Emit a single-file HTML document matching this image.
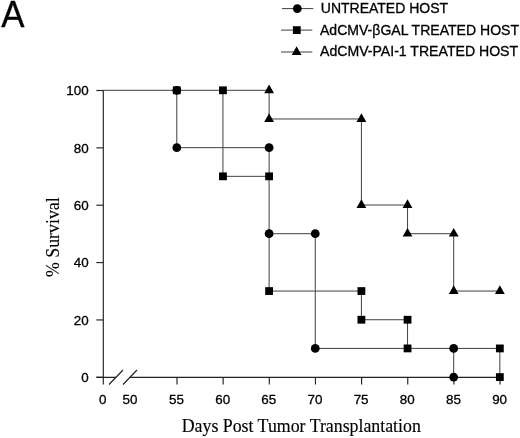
<!DOCTYPE html><html><head><meta charset="utf-8"><title>A</title><style>html,body{margin:0;padding:0;background:#fff}svg{display:block}text{font-family:"Liberation Sans",sans-serif;fill:#000;stroke:#000;stroke-width:.3px}.s{font-family:"Liberation Serif",serif;stroke-width:.15px}</style></head><body>
<svg width="520" height="438" viewBox="0 0 520 438">
<rect width="520" height="438" fill="#fff"/>
<text transform="translate(1.3 26.8) scale(.965 1)" font-size="36.1" stroke-width="0">A</text>
<g stroke="#222" stroke-width="1.15" fill="none">
<path d="M103.3 90.3V384.5"/>
<path d="M96.3 377.3H116M130 377.3H499.85"/>
<path d="M109 384.5L123 370M123 384.5L137 370"/>
<path d="M96.3 377.3H103.3"/>
<path d="M96.3 319.94H103.3"/>
<path d="M96.3 262.58H103.3"/>
<path d="M96.3 205.22H103.3"/>
<path d="M96.3 147.86H103.3"/>
<path d="M96.3 90.5H103.3"/>
<path d="M177.0 377.3V384.5"/>
<path d="M223.15 377.3V384.5"/>
<path d="M269.3 377.3V384.5"/>
<path d="M315.45 377.3V384.5"/>
<path d="M361.6 377.3V384.5"/>
<path d="M407.75 377.3V384.5"/>
<path d="M453.9 377.3V384.5"/>
<path d="M500.05 377.3V384.5"/>
</g>
<g stroke="#404040" stroke-width="1" fill="none">
<path stroke-linecap="square" d="M103.1 90.3H269.1M176.8 90.3V147.66M222.95 90.3V176.34M269.1 90.3V118.98M269.1 147.66V291.06M315.25 233.7V348.42M361.4 118.98V205.02M361.4 291.06V319.74M407.55 205.02V233.7M407.55 319.74V348.42M453.7 233.7V291.06M453.7 348.42V377.1M499.85 348.42V377.1M269.1 118.98H361.4M176.8 147.66H269.1M222.95 176.34H269.1M361.4 205.02H407.55M269.1 233.7H315.25M407.55 233.7H453.7M269.1 291.06H361.4M453.7 291.06H499.85M361.4 319.74H407.55M315.25 348.42H499.85"/>
<path d="M282 8.6H313.3"/>
<path d="M281 30.1H312.3"/>
<path d="M281 52H312.3"/>
</g>
<g fill="#000">
<circle cx="176.8" cy="90.3" r="4.4"/>
<circle cx="176.8" cy="147.66" r="4.4"/>
<circle cx="269.1" cy="147.66" r="4.4"/>
<circle cx="269.1" cy="233.7" r="4.4"/>
<circle cx="315.25" cy="233.7" r="4.4"/>
<circle cx="315.25" cy="348.42" r="4.4"/>
<circle cx="453.7" cy="348.42" r="4.4"/>
<circle cx="453.7" cy="377.1" r="4.4"/>
<rect x="172.90" y="86.40" width="7.8" height="7.8"/>
<rect x="219.05" y="86.40" width="7.8" height="7.8"/>
<rect x="219.05" y="172.44" width="7.8" height="7.8"/>
<rect x="265.20" y="172.44" width="7.8" height="7.8"/>
<rect x="265.20" y="287.16" width="7.8" height="7.8"/>
<rect x="357.50" y="287.16" width="7.8" height="7.8"/>
<rect x="357.50" y="315.84" width="7.8" height="7.8"/>
<rect x="403.65" y="315.84" width="7.8" height="7.8"/>
<rect x="403.65" y="344.52" width="7.8" height="7.8"/>
<rect x="495.95" y="344.52" width="7.8" height="7.8"/>
<rect x="495.95" y="373.20" width="7.8" height="7.8"/>
<path d="M269.1 84.60L274.00 93.20H264.20Z"/>
<path d="M269.1 113.28L274.00 121.88H264.20Z"/>
<path d="M361.4 113.28L366.30 121.88H356.50Z"/>
<path d="M361.4 199.32L366.30 207.92H356.50Z"/>
<path d="M407.55 199.32L412.45 207.92H402.65Z"/>
<path d="M407.55 228.00L412.45 236.60H402.65Z"/>
<path d="M453.7 228.00L458.60 236.60H448.80Z"/>
<path d="M453.7 285.36L458.60 293.96H448.80Z"/>
<path d="M499.85 285.36L504.75 293.96H494.95Z"/>
<circle cx="297.3" cy="8.6" r="4.4"/>
<rect x="292.90" y="26.20" width="7.8" height="7.8"/>
<path d="M296.6 46.30L301.50 54.90H291.70Z"/>
</g>
<text x="88.6" y="382.0" font-size="13.4" text-anchor="end">0</text>
<text x="88.6" y="324.6" font-size="13.4" text-anchor="end">20</text>
<text x="88.6" y="267.3" font-size="13.4" text-anchor="end">40</text>
<text x="88.6" y="209.9" font-size="13.4" text-anchor="end">60</text>
<text x="88.6" y="152.6" font-size="13.4" text-anchor="end">80</text>
<text x="88.6" y="95.2" font-size="13.4" text-anchor="end">100</text>
<text x="176.5" y="404.3" font-size="13.4" text-anchor="middle">55</text>
<text x="222.7" y="404.3" font-size="13.4" text-anchor="middle">60</text>
<text x="268.8" y="404.3" font-size="13.4" text-anchor="middle">65</text>
<text x="314.9" y="404.3" font-size="13.4" text-anchor="middle">70</text>
<text x="361.1" y="404.3" font-size="13.4" text-anchor="middle">75</text>
<text x="407.2" y="404.3" font-size="13.4" text-anchor="middle">80</text>
<text x="453.4" y="404.3" font-size="13.4" text-anchor="middle">85</text>
<text x="499.6" y="404.3" font-size="13.4" text-anchor="middle">90</text>
<text x="102.8" y="404.3" font-size="13.4" text-anchor="middle">0</text>
<text x="129.9" y="404.3" font-size="13.4" text-anchor="middle">50</text>
<text x="320.8" y="13.0" font-size="14">UNTREATED HOST</text>
<text x="320" y="34.8" font-size="14.05">AdCMV-βGAL TREATED HOST</text>
<text x="320" y="56.3" font-size="14.1">AdCMV-PAI-1 TREATED HOST</text>
<text class="s" transform="translate(181.7 432.2) scale(.964 1)" font-size="18.5">Days Post Tumor Transplantation</text>
<text class="s" transform="translate(59.4 277) rotate(-90) scale(.964 1)" font-size="18.5">% Survival</text>
</svg></body></html>
